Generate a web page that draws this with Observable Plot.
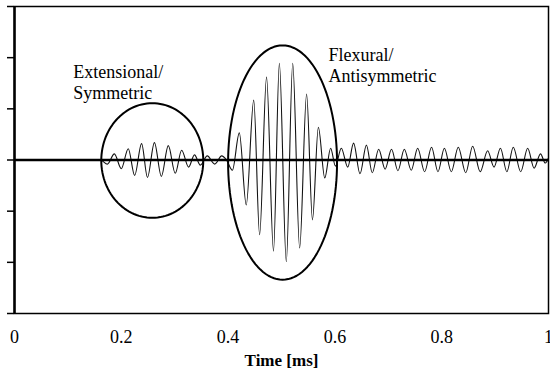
<!DOCTYPE html>
<html><head><meta charset="utf-8">
<script src="https://cdn.jsdelivr.net/npm/d3@7"></script>
<script src="https://cdn.jsdelivr.net/npm/@observablehq/plot@0.6"></script>
<style>body{margin:0;background:#fff} svg text{font-family:"Liberation Serif","Times New Roman",serif;}</style>
</head><body><div id="chart"></div>
<script>
// Signal (time in ms, amplitude in arbitrary units), read as extrema from the picture
const time = [0, 0.161, 0.174, 0.187, 0.200, 0.213, 0.225, 0.238, 0.249, 0.262, 0.275, 0.288, 0.301, 0.313, 0.326, 0.337, 0.348, 0.361, 0.375, 0.388, 0.397, 0.408,
  0.421, 0.434, 0.448, 0.459, 0.472, 0.485, 0.496, 0.509, 0.521, 0.534, 0.547, 0.558, 0.569, 0.581, 0.592, 0.601,
  0.612, 0.624, 0.635, 0.647, 0.659, 0.670, 0.682, 0.694, 0.706, 0.718, 0.730, 0.743, 0.755, 0.768, 0.781, 0.793,
  0.805, 0.818, 0.831, 0.845, 0.858, 0.872, 0.886, 0.898, 0.910, 0.922, 0.934, 0.948, 0.961, 0.973, 0.985, 0.994, 1.0];
const amplitude = [0, 0, -0.08, 0.12, -0.17, 0.22, -0.30, 0.32, -0.34, 0.34, -0.32, 0.28, -0.26, 0.19, -0.14, 0.10, -0.10, 0.08, -0.08, 0.08, 0, -0.20,
  0.53, -0.88, 1.17, -1.46, 1.62, -1.78, 1.89, -1.99, 1.89, -1.72, 1.29, -1.17, 0.64, -0.35, 0.23, -0.12,
  0.23, -0.14, 0.33, -0.27, 0.29, -0.25, 0.21, -0.18, 0.21, -0.21, 0.21, -0.20, 0.23, -0.23, 0.25, -0.23,
  0.23, -0.23, 0.25, -0.25, 0.27, -0.23, 0.18, -0.14, 0.23, -0.23, 0.25, -0.23, 0.23, -0.16, 0.12, -0.06, 0.04];

const xTicks = [0, 0.2, 0.4, 0.6, 0.8, 1];
const xTickLabels = ["0", "0.2", "0.4", "0.6", "0.8", "1"];
const yTicks = [-3, -2, -1, 0, 1, 2, 3];
const xLabel = "Time [ms]";

// Annotation ellipses (center and radii in data units)
const ellipseNames = ["Extensional", "Flexural"];
const ellipseCx = [0.258, 0.502];
const ellipseCy = [-0.01, -0.05];
const ellipseRx = [0.0955, 0.102];
const ellipseRy = [1.12, 2.29];

const annotationText = ["Extensional/\nSymmetric", "Flexural/\nAntisymmetric"];
const annotationX = [0.110, 0.588];
const annotationY = [1.89, 2.22];

const serif = "'Liberation Serif', 'Times New Roman', serif";

const signal = time.map((t, i) => ({t, a: amplitude[i]}));
const angles = d3.range(0, 361, 3);
const ellipsePts = ellipseNames.flatMap((name, k) => angles.map(deg => ({
  name,
  t: ellipseCx[k] + ellipseRx[k] * Math.cos(deg * Math.PI / 180),
  a: ellipseCy[k] + ellipseRy[k] * Math.sin(deg * Math.PI / 180)
})));
const annotations = annotationText.map((text, i) => ({text, t: annotationX[i], a: annotationY[i]}));

const chart = Plot.plot({
  width: 550,
  height: 381,
  marginLeft: 14,
  marginRight: 2,
  marginTop: 6,
  marginBottom: 68,
  x: {domain: [0, 1]},
  y: {domain: [-3, 3]},
  style: "font-family: 'Liberation Serif', 'Times New Roman', serif; font-size: 18px; color: #000; background: #fff;",
  marks: [
    Plot.line(signal, {x: "t", y: "a", curve: "monotone-x", stroke: "#111", strokeWidth: 1.1}),
    Plot.line(ellipsePts, {x: "t", y: "a", z: "name", stroke: "#000", strokeWidth: 2}),
    Plot.ruleY([0], {stroke: "#000", strokeWidth: 2.5}),
    Plot.axisY({ticks: yTicks, tickSize: 7, tickFormat: () => "", strokeWidth: 1.5, label: null}),
    Plot.axisX({ticks: xTicks, tickSize: 0, tickPadding: 17, tickFormat: d => xTickLabels[xTicks.indexOf(d)], label: null, fontSize: 18, fontFamily: serif}),
    Plot.frame({stroke: "#000", strokeWidth: 1.5}),
    Plot.ruleX([0], {stroke: "#000", strokeWidth: 2.5}),
    Plot.text(annotations, {x: "t", y: "a", text: "text", textAnchor: "start", lineAnchor: "top", lineHeight: 1.17, fontSize: 18, fontFamily: serif, fill: "#000"}),
    Plot.text([xLabel], {frameAnchor: "bottom", dy: 52, fontWeight: "bold", fontSize: 17, fontFamily: serif, fill: "#000"})
  ]
});
document.getElementById("chart").append(chart);
</script>
</body></html>
